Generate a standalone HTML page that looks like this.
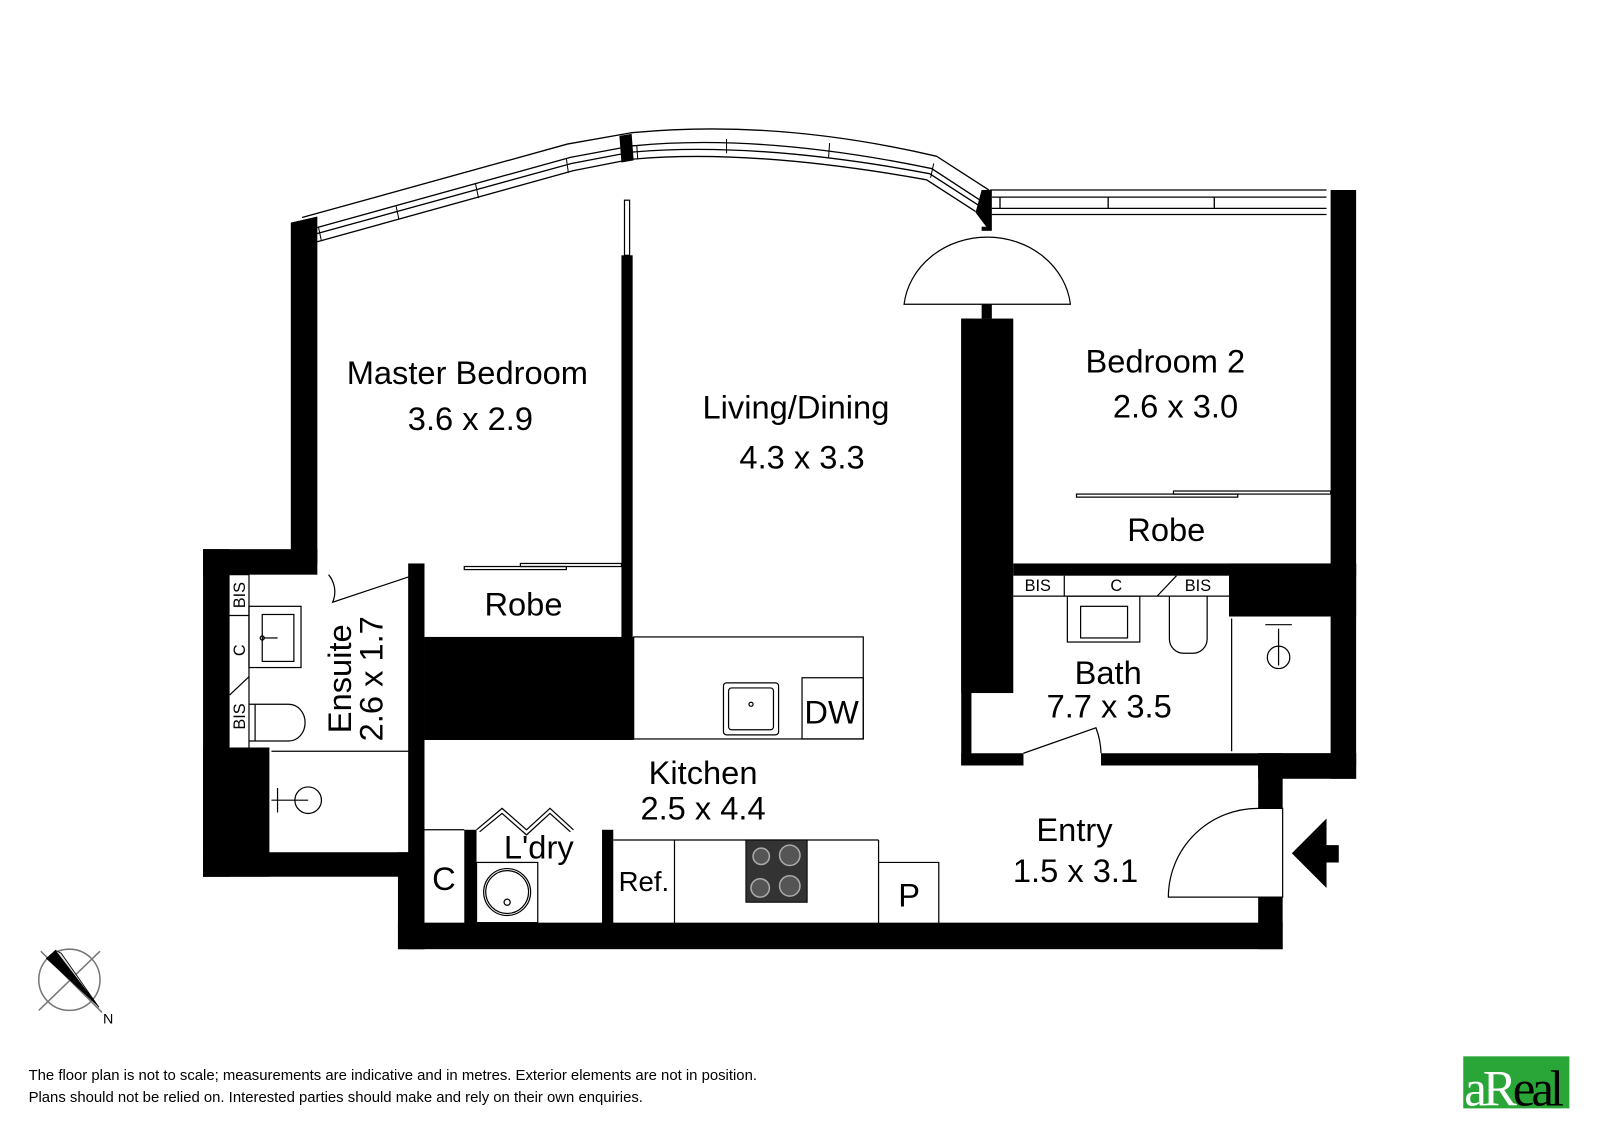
<!DOCTYPE html>
<html><head><meta charset="utf-8"><style>
html,body{margin:0;padding:0;background:#fff;}
svg{display:block;}
text{font-family:"Liberation Sans",Arial,sans-serif;fill:#000;}
</style></head><body>
<svg width="1600" height="1131" viewBox="0 0 1568 1108" xmlns="http://www.w3.org/2000/svg">
<rect width="1568" height="1108" fill="#fff"/>
<g fill="none" stroke="#000" stroke-width="1.3">
<path d="M296,213 L556,141 L618,130 Q760,116 918,153 L969,186"/>
<path d="M303,225 L559,154 L618,143 Q745,130 913,165 L962,197"/>
<path d="M306,230 L560,160 L618,149 Q740,138 911,170 L959,201"/>
<path d="M310,237 L562,167 L618,156 Q735,145 908,176 L956,207"/>
<g stroke-width="1">
<line x1="312" y1="222" x2="315" y2="236"/><line x1="388" y1="201" x2="391" y2="215"/>
<line x1="466" y1="180" x2="469" y2="194"/><line x1="555" y1="155" x2="557" y2="169"/>
<line x1="624" y1="142" x2="625" y2="156"/><line x1="712" y1="136" x2="712" y2="150"/>
<line x1="813" y1="140" x2="812" y2="154"/><line x1="915" y1="160" x2="912" y2="174"/>
</g>
<line x1="970" y1="186" x2="1300" y2="186"/>
<line x1="972" y1="193" x2="1300" y2="193"/>
<line x1="972" y1="204" x2="1300" y2="204"/>
<line x1="972" y1="210" x2="1300" y2="210"/>
<line x1="1086" y1="193" x2="1086" y2="204"/><line x1="1190" y1="193" x2="1190" y2="204"/>
<line x1="980" y1="193" x2="980" y2="204"/>
</g>
<g fill="#000">
<polygon points="607,133 619,131 621,157 609,159"/>
<polygon points="962,186 972,186 972,222 968,224 956,208"/>
<rect x="962" y="222" width="10" height="4"/>
<polygon points="285,218 311,212 311,552 285,552"/>
<rect x="199" y="538" width="112" height="25"/>
<rect x="199" y="538" width="26" height="321"/>
<rect x="199" y="733" width="65" height="126"/>
<rect x="199" y="835" width="217" height="24"/>
<rect x="400" y="552" width="16" height="378"/>
<rect x="390" y="835" width="26" height="95"/>
<rect x="390" y="904" width="867" height="26"/>
<rect x="416" y="624" width="205" height="101"/>
<rect x="609" y="250" width="11" height="375"/>
<rect x="455" y="813" width="12" height="92"/>
<rect x="590" y="813" width="11" height="92"/>
<rect x="942" y="312" width="51" height="367"/>
<rect x="942" y="312" width="10" height="438"/>
<rect x="962" y="298" width="10" height="14"/>
<rect x="942" y="738" width="61" height="12"/>
<rect x="1079" y="738" width="250" height="12"/>
<rect x="993" y="552" width="336" height="12"/>
<rect x="1205" y="552" width="124" height="52"/>
<rect x="1304" y="186" width="25" height="577"/>
<rect x="1233" y="738" width="96" height="25"/>
<rect x="1233" y="738" width="24" height="54"/>
<rect x="1233" y="879" width="24" height="51"/>
<polygon points="1266,836 1300,802 1300,828 1312,828 1312,845 1300,845 1300,870"/>
</g>
<g fill="none" stroke="#000" stroke-width="1.2">
<rect x="612" y="196" width="5" height="54"/>
<path d="M886,298 A82,74 0 0 1 1049,298 Z"/>
<rect x="455" y="555" width="100" height="3"/><rect x="510" y="552" width="99" height="3"/>
<rect x="1055" y="484" width="158" height="3"/><rect x="1150" y="481" width="154" height="3"/>
<line x1="225" y1="563" x2="244" y2="563"/>
<line x1="244" y1="563" x2="244" y2="733"/>
<line x1="225" y1="733" x2="264" y2="733"/>
<line x1="225" y1="603" x2="244" y2="603"/>
<line x1="225" y1="681" x2="244" y2="663"/>
<rect x="244" y="594" width="51" height="60"/>
<rect x="257" y="602" width="31" height="46"/>
<path d="M244,690 L283,690 A16,18 0 0 1 283,726 L244,726"/>
<line x1="250" y1="690" x2="250" y2="726"/>
<path d="M404,564 L326,590 A26,26 0 0 0 322,563"/>
<line x1="266" y1="736" x2="404" y2="736"/>
<circle cx="302" cy="784" r="13"/>
<line x1="266" y1="784" x2="302" y2="784"/>
<line x1="272" y1="772" x2="272" y2="796"/>
<circle cx="257" cy="625" r="2"/><line x1="257" y1="625" x2="272" y2="625"/>
<line x1="416" y1="813" x2="455" y2="813"/>
<path d="M467,813 L492,792 L516,813 L539,792 L562,813"/>
<path d="M470,815 L492,797 L516,818 L539,797 L559,815"/>
<rect x="467" y="845" width="60" height="59"/>
<circle cx="497" cy="874" r="23"/><circle cx="497" cy="874" r="21"/>
<circle cx="497" cy="884" r="3"/>
<rect x="621" y="624" width="225" height="100"/>
<rect x="709" y="669" width="54" height="51" rx="3"/>
<rect x="714" y="674" width="44" height="41" rx="3"/>
<circle cx="736" cy="690" r="2"/>
<rect x="786" y="664" width="60" height="60"/>
<line x1="601" y1="823" x2="861" y2="823"/>
<line x1="661" y1="823" x2="661" y2="905"/>
<line x1="861" y1="823" x2="861" y2="905"/>
<polyline points="861,845 920,845 920,905"/>
<line x1="993" y1="584" x2="1205" y2="584"/>
<line x1="1043" y1="564" x2="1043" y2="584"/>
<line x1="1134" y1="584" x2="1153" y2="564"/>
<line x1="1205" y1="564" x2="1205" y2="604"/>
<rect x="1046" y="584" width="71" height="45"/>
<rect x="1059" y="594" width="46" height="31"/>
<path d="M1146,584 L1146,626 A14,14 0 0 0 1160,640 L1169,640 A14,14 0 0 0 1183,626 L1183,584"/>
<line x1="1207" y1="606" x2="1207" y2="736"/>
<circle cx="1253" cy="644" r="11"/>
<line x1="1253" y1="616" x2="1253" y2="652"/>
<line x1="1240" y1="612" x2="1266" y2="612"/>
<path d="M1003,738 L1074,713 A75,75 0 0 1 1079,738"/>
<path d="M1233,792 L1257,792 L1257,879 L1145,879 A88,87 0 0 1 1233,792"/>
</g>
<rect x="731" y="823" width="60" height="61" fill="#333" stroke="#000"/>
<g fill="#555" stroke="#aaa" stroke-width="1.5">
<circle cx="746" cy="839" r="8"/><circle cx="774" cy="838" r="10"/>
<circle cx="745" cy="870" r="9"/><circle cx="774" cy="868" r="10"/>
</g>
<g font-size="32" text-anchor="middle">
<text x="458" y="376">Master Bedroom</text>
<text x="461" y="421">3.6 x 2.9</text>
<text x="780" y="410">Living/Dining</text>
<text x="786" y="459">4.3 x 3.3</text>
<text x="1142" y="365">Bedroom 2</text>
<text x="1152" y="409">2.6 x 3.0</text>
<text x="1143" y="530">Robe</text>
<text x="513" y="603">Robe</text>
<text x="689" y="768">Kitchen</text>
<text x="689" y="803">2.5 x 4.4</text>
<text x="528" y="841">L'dry</text>
<text x="435" y="872">C</text>
<text x="815" y="709">DW</text>
<text x="891" y="888">P</text>
<text x="1086" y="670">Bath</text>
<text x="1087" y="703">7.7 x 3.5</text>
<text x="1053" y="824">Entry</text>
<text x="1054" y="864">1.5 x 3.1</text>
<text transform="translate(344,665) rotate(-90)">Ensuite</text>
<text transform="translate(375,665) rotate(-90)">2.6 x 1.7</text>
</g>
<text x="631" y="873" font-size="27" text-anchor="middle">Ref.</text>
<g font-size="16" text-anchor="middle">
<text x="1017" y="579">BIS</text><text x="1094" y="579">C</text><text x="1174" y="579">BIS</text>
<text transform="translate(240,583) rotate(-90)">BIS</text>
<text transform="translate(240,637) rotate(-90)">C</text>
<text transform="translate(240,702) rotate(-90)">BIS</text>
</g>
<g stroke="#777" stroke-width="1.5" fill="none">
<circle cx="68" cy="960" r="30"/>
<line x1="40" y1="932" x2="100" y2="992"/>
<line x1="98" y1="932" x2="38" y2="990"/>
</g>
<polygon points="45,939 54,931 97,987" fill="#000"/>
<polygon points="54,931 97,987 60,934" fill="#ddd" stroke="#000" stroke-width="0.8"/>
<text x="106" y="1003" font-size="14" text-anchor="middle">N</text>
<text x="28" y="1058" font-size="14.6">The floor plan is not to scale; measurements are indicative and in metres. Exterior elements are not in position.</text>
<text x="28" y="1080" font-size="14.6">Plans should not be relied on. Interested parties should make and rely on their own enquiries.</text>
<rect x="1434" y="1035" width="104" height="51" fill="#2aa537"/>
<text x="1435" y="1083" font-size="50" style="font-family:'Liberation Serif',serif" letter-spacing="-4"><tspan fill="#fff">a</tspan><tspan fill="#fff">R</tspan><tspan fill="#000">eal</tspan></text>
</svg>
</body></html>
